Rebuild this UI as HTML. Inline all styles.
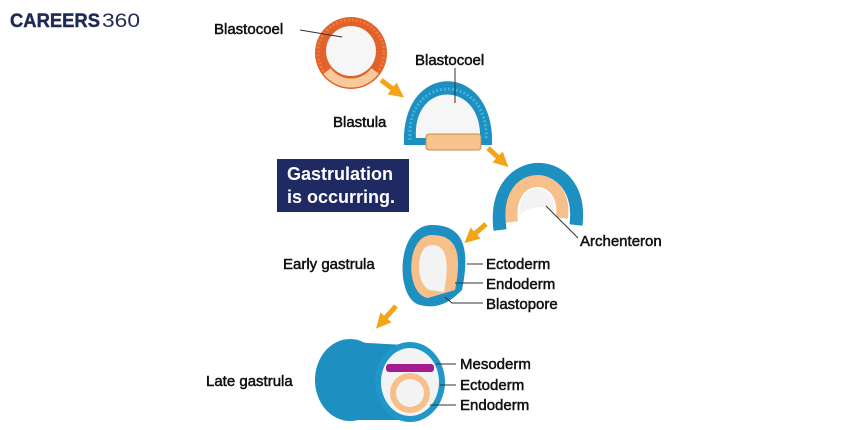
<!DOCTYPE html>
<html><head><meta charset="utf-8"><style>
html,body{margin:0;padding:0;background:#fff}
svg{display:block}
text{font-family:"Liberation Sans",sans-serif;font-size:15px;fill:#111;stroke:#111;stroke-width:0.5}
</style></head><body>
<svg width="860" height="430" viewBox="0 0 860 430" xmlns="http://www.w3.org/2000/svg">
<defs>
<marker id="ah" viewBox="0 0 10 10" refX="5" refY="5" markerWidth="3" markerHeight="3" orient="auto"><path d="M0,0 L10,5 L0,10 Z" fill="#f2a516"/></marker>
</defs>
<!-- logo -->
<text x="10" y="27" textLength="90" lengthAdjust="spacingAndGlyphs" style="font-size:19px;font-weight:bold;fill:#1f2a55;stroke:#1f2a55;stroke-width:0.4">CAREERS</text>
<text x="102" y="27" textLength="38" lengthAdjust="spacingAndGlyphs" style="font-size:19px;fill:#1f2a55;stroke:none">360</text>

<!-- blastocoel sphere -->
<circle cx="351" cy="53" r="36" fill="#e0622a"/>
<circle cx="351" cy="53" r="33" fill="none" stroke="#f07a3a" stroke-width="3" stroke-dasharray="2 2"/>
<path d="M327,71 A30,30 0 0 0 375,71" fill="none" stroke="#f8c99a" stroke-width="9"/>
<circle cx="351" cy="51" r="25" fill="#f6f6f6"/>

<!-- blastula -->
<path d="M404,145 C400,60 495,60 492,145 Z" fill="#1d8fc0"/>
<path d="M410,140 C405,72 490,72 486,140" fill="none" stroke="#3fb3df" stroke-width="3" stroke-dasharray="2 2"/>
<path d="M416,138 C412,80 482,80 480,138 Z" fill="#f6f6f6"/>
<rect x="426" y="134" width="55" height="16" rx="3" fill="#f7c48e" stroke="#c98a4a" stroke-width="1"/>

<!-- arch -->
<path d="M500,230 C490,150 585,150 576,225" fill="none" stroke="#1d8fc0" stroke-width="13"/>
<path d="M512,222 C505,168 568,168 562,218" fill="none" stroke="#f7c08a" stroke-width="12"/>
<path d="M520,215 C517,180 556,180 554,212 C545,205 530,205 520,215 Z" fill="#f3f3f3"/>

<!-- early gastrula -->
<path d="M462,290 C470,250 465,225 432,225 C395,225 395,300 420,305 C440,310 452,300 462,290 Z" fill="#1d8fc0"/>
<path d="M455,290 C462,255 458,235 432,235 C405,235 405,295 428,298 Z" fill="#f7c08a"/>
<path d="M444,292 C450,260 446,245 432,245 C415,245 415,285 430,290 Z" fill="#f3f3f3"/>

<!-- late gastrula -->
<path d="M350,342 L405,345 L410,420 L350,420 Z" fill="#1d8fc0"/>
<ellipse cx="350" cy="380" rx="35" ry="41" fill="#1d8fc0"/>
<ellipse cx="410" cy="382" rx="35" ry="40" fill="#2196c8"/>
<ellipse cx="410" cy="382" rx="29" ry="34" fill="#f3f3f3"/>
<rect x="386" y="364" width="48" height="8" rx="3" fill="#a51c8f"/>
<circle cx="410" cy="393" r="20" fill="#f7c08a"/>
<circle cx="410" cy="393" r="14" fill="#f3f3f3"/>

<!-- arrows -->
<g stroke="#f2a516" stroke-width="5" marker-end="url(#ah)">
<line x1="381" y1="80" x2="398" y2="93"/>
<line x1="488" y1="148" x2="503" y2="162"/>
<line x1="486" y1="224" x2="470" y2="238"/>
<line x1="396" y1="306" x2="381" y2="323"/>
</g>

<!-- box -->
<rect x="277" y="159" width="132" height="53" fill="#1f2a63"/>
<text x="287" y="180" style="font-size:18px;font-weight:bold;fill:#fff;stroke:none">Gastrulation</text>
<text x="287" y="203" style="font-size:18px;font-weight:bold;fill:#fff;stroke:none">is occurring.</text>

<!-- leader lines -->
<g stroke="#333" stroke-width="1" fill="none">
<line x1="300" y1="30" x2="342" y2="37"/>
<line x1="455" y1="68" x2="455" y2="103"/>
<line x1="578" y1="238" x2="546" y2="206"/>
<line x1="467" y1="264" x2="483" y2="264"/>
<line x1="455" y1="283" x2="483" y2="283"/>
<path d="M445,297 L452,303 L483,303"/>
<line x1="436" y1="364" x2="456" y2="364"/>
<line x1="440" y1="385" x2="456" y2="385"/>
<line x1="430" y1="405" x2="456" y2="405"/>
</g>

<!-- labels -->
<text x="214" y="34">Blastocoel</text>
<text x="415" y="65">Blastocoel</text>
<text x="333" y="127">Blastula</text>
<text x="580" y="246">Archenteron</text>
<text x="283" y="269">Early gastrula</text>
<text x="486" y="269">Ectoderm</text>
<text x="486" y="289">Endoderm</text>
<text x="486" y="309">Blastopore</text>
<text x="206" y="386">Late gastrula</text>
<text x="460" y="369">Mesoderm</text>
<text x="460" y="390">Ectoderm</text>
<text x="460" y="410">Endoderm</text>
</svg>
</body></html>
